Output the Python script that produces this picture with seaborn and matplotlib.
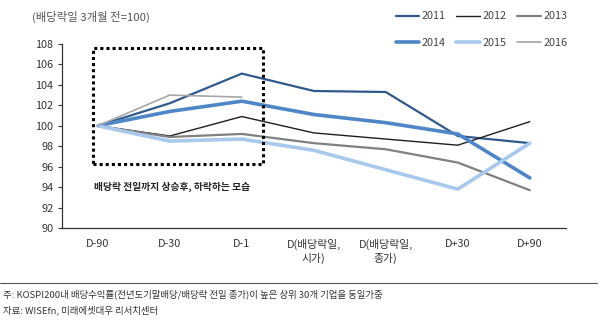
import matplotlib
matplotlib.use("Agg")
import matplotlib.pyplot as plt
import seaborn as sns
import pandas as pd
from matplotlib.patches import Rectangle
from matplotlib.lines import Line2D

sns.set_theme(style="white")
plt.rcParams['font.family'] = ['Noto Sans CJK KR', 'DejaVu Sans']

categories = ["D-90", "D-30", "D-1", "D(배당락일,\n시가)", "D(배당락일,\n종가)", "D+30", "D+90"]
s2011 = [100, 102.2, 105.1, 103.4, 103.3, 99.0, 98.3]
s2012 = [100, 99.0, 100.9, 99.3, 98.7, 98.1, 100.4]
s2013 = [100, 98.9, 99.2, 98.3, 97.7, 96.4, 93.7]
s2014 = [100, 101.4, 102.4, 101.1, 100.3, 99.2, 94.9]
s2015 = [100, 98.5, 98.7, 97.6, 95.7, 93.8, 98.3]
s2016 = [100, 103.0, 102.8]
series_names = ["2011", "2012", "2013", "2014", "2015", "2016"]
series_vals = [s2011, s2012, s2013, s2014, s2015, s2016]
colors = ["#30598C", "#1E1E1E", "#808080", "#4E86C8", "#A8C8EC", "#A6A6A6"]
widths = [1.6, 1.0, 1.6, 2.6, 2.6, 1.2]
draw_order = [4, 2, 1, 5, 3, 0]

fig = plt.figure(figsize=(6.0, 3.23), dpi=100)
ax = fig.add_axes([0.103, 0.294, 0.84, 0.570])

for i in draw_order:
    vals = series_vals[i]
    df = pd.DataFrame({"x": list(range(len(vals))), "y": vals})
    sns.lineplot(data=df, x="x", y="y", ax=ax, color=colors[i], linewidth=widths[i],
                 legend=False, zorder=3 + i)

ax.set_xlim(-0.5, 6.5)
ax.set_ylim(90, 108)
ax.set_xticks(range(len(categories)))
ax.set_xticklabels(categories, fontsize=7.8, color="#333333", linespacing=1.3)
ax.set_yticks(range(90, 109, 2))
ax.set_yticklabels([str(v) for v in range(90, 109, 2)], fontsize=7.8, color="#333333")
ax.set_xticks([k + 0.5 for k in range(-1, 7)], minor=True)
ax.tick_params(axis="x", which="major", length=0, pad=8)
ax.tick_params(axis="x", which="minor", length=4, direction="in", color="#333333", width=0.8)
ax.tick_params(axis="y", length=3, direction="out", color="#333333", width=0.8, left=True, pad=3)
ax.set_xlabel("")
ax.set_ylabel("")
for sp in ["top", "right"]:
    ax.spines[sp].set_visible(False)
for sp in ["left", "bottom"]:
    ax.spines[sp].set_color("#333333")
    ax.spines[sp].set_linewidth(0.9)

rect = Rectangle((-0.06, 96.3), 2.36, 11.3, fill=False, linestyle=(0, (1, 1)),
                 linewidth=2.2, edgecolor="black", zorder=10, clip_on=False)
ax.add_patch(rect)
ax.text(-0.05, 94.0, "배당락 전일까지 상승후, 하락하는 모습", fontsize=7.0, fontweight="bold",
        color="#222222", va="center", ha="left")

fig.text(0.053, 0.948, "(배당락일 3개월 전=100)", fontsize=8.2, color="#555555", va="center")

order = [0, 3, 1, 4, 2, 5]
handles = [Line2D([0], [0], color=colors[i], linewidth=widths[i]) for i in order]
labels = [series_names[i] for i in order]
leg = fig.legend(handles, labels, ncol=3, loc="upper left", bbox_to_anchor=(0.643, 0.995),
                 frameon=False, fontsize=7.8, handlelength=2.2, handletextpad=0.2,
                 columnspacing=1.0, labelspacing=1.55)
for t in leg.get_texts():
    t.set_color("#444444")

fig.add_artist(Line2D([0.0, 0.995], [0.125, 0.125], color="#555555", linewidth=0.8))
fig.text(0.005, 0.09, "주: KOSPI200내 배당수익률(전년도기말배당/배당락 전일 종가)이 높은 상위 30개 기업을 동일가중",
         fontsize=6.8, color="#333333", va="center")
fig.text(0.005, 0.04, "자료: WISEfn, 미래에셋대우 리서치센터", fontsize=6.8, color="#333333", va="center")

fig.savefig("out.png", dpi=100)
